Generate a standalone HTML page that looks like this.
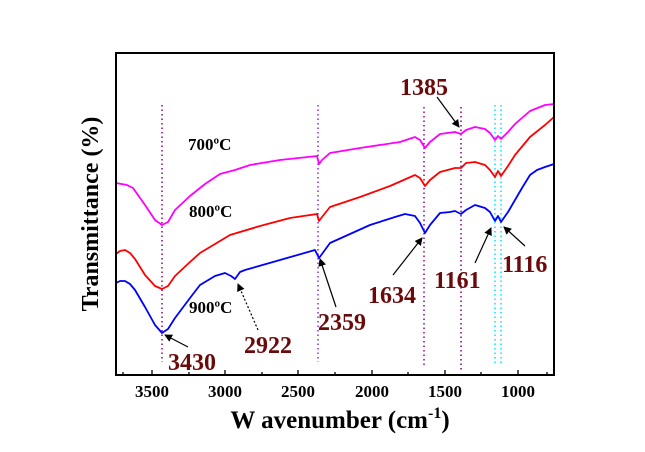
<!DOCTYPE html>
<html><head><meta charset="utf-8"><style>body{margin:0;background:#fff}svg{display:block}</style></head>
<body>
<svg width="645" height="452" xmlns="http://www.w3.org/2000/svg" font-family="Liberation Serif, serif" font-weight="bold">
<defs><marker id="ah" markerWidth="8" markerHeight="8" refX="7" refY="4" orient="auto" markerUnits="userSpaceOnUse"><path d="M0,0 L8,4 L0,8 Z" fill="#000"/></marker></defs>
<g stroke-dasharray="1.5,3" stroke-width="1.5">
<line x1="162" y1="105" x2="162" y2="362" stroke="#900090"/>
<line x1="318" y1="105" x2="318" y2="362" stroke="#8a2be2"/>
<line x1="424" y1="107" x2="424" y2="366" stroke="#900090"/>
<line x1="461" y1="107" x2="461" y2="370" stroke="#800080"/>
<line x1="495" y1="105" x2="495" y2="365" stroke="#00e5ff"/>
<line x1="501" y1="105" x2="501" y2="365" stroke="#00e5ff"/>
</g>
<g fill="none" stroke-width="1.8" stroke-linejoin="round">
<polyline stroke="#ff00ff" points="116,183 127,185 133,188 145,205 155,220 162,225 168,222 175,210 190,196 205,184 220,174 235,170 250,165 280,160 317,156 319,164 322,160 330,153 360,148 400,142 415,137 420,140 425,148 430,142 440,134 455,132 461,134 466,130 475,127 485,129 490,133 495,140 498,136 501,139 508,132 515,124 530,111 545,105 554,104"/>
<polyline stroke="#ff0000" points="116,254 120,251 125,250 130,253 135,259 145,275 155,286 162,289 168,286 175,276 190,262 200,253 230,235 260,226 290,218 317,214 319,221 322,217 330,207 360,197 390,186 415,175 420,178 425,186 430,180 440,172 455,168 461,168 466,163 475,162 485,165 490,170 495,177 498,171 501,176 508,166 515,155 530,137 545,125 554,117"/>
<polyline stroke="#0000ff" points="116,283 120,281 125,281 130,284 135,290 145,307 155,325 162,333 168,329 175,318 190,298 200,285 215,276 225,273 231,276 235,279 240,272 245,270 280,260 315,250 319,258 322,254 330,243 350,234 370,225 395,217 405,214 415,216 420,223 425,233 430,225 440,213 450,212 455,211 461,214 466,210 475,205 485,208 490,212 495,221 498,216 501,222 508,212 515,200 522,188 530,175 537,170 545,167 554,164"/>
</g>
<rect x="116" y="53" width="438" height="322" fill="none" stroke="#000" stroke-width="2"/>
<g stroke="#000" stroke-width="1.3">
<line x1="152" y1="375" x2="152" y2="370"/><line x1="225" y1="375" x2="225" y2="370"/><line x1="298" y1="375" x2="298" y2="370"/><line x1="372" y1="375" x2="372" y2="370"/><line x1="445" y1="375" x2="445" y2="370"/><line x1="518" y1="375" x2="518" y2="370"/>
<line x1="189" y1="375" x2="189" y2="372"/><line x1="262" y1="375" x2="262" y2="372"/><line x1="335" y1="375" x2="335" y2="372"/><line x1="408" y1="375" x2="408" y2="372"/><line x1="481" y1="375" x2="481" y2="372"/><line x1="123" y1="375" x2="123" y2="372"/><line x1="547" y1="375" x2="547" y2="372"/>
</g>
<g font-size="17" text-anchor="middle" fill="#000">
<text x="152" y="397">3500</text><text x="225" y="397">3000</text><text x="298" y="397">2500</text><text x="372" y="397">2000</text><text x="445" y="397">1500</text><text x="518" y="397">1000</text>
</g>
<text x="340" y="428" font-size="25" text-anchor="middle">W avenumber (cm<tspan font-size="16" dy="-10">-1</tspan><tspan dy="10">)</tspan></text>
<text transform="translate(98,214) rotate(-90)" font-size="24" text-anchor="middle">Transmittance (%)</text>
<g font-size="17" fill="#000">
<text x="188" y="150">700ºC</text><text x="189" y="217">800ºC</text><text x="189" y="313">900ºC</text>
</g>
<g font-size="24" fill="#6b0a0a">
<text x="400" y="95">1385</text><text x="168" y="370">3430</text><text x="244" y="353">2922</text><text x="318" y="330">2359</text><text x="368" y="303">1634</text><text x="434" y="288">1161</text><text x="502" y="272">1116</text>
</g>
<g stroke="#000" stroke-width="1.2" marker-end="url(#ah)">
<line x1="437" y1="97" x2="459" y2="127"/>
<line x1="188" y1="347" x2="165" y2="335"/>
<line x1="258" y1="330" x2="238" y2="284" stroke-dasharray="2,2"/>
<line x1="336" y1="307" x2="320" y2="259"/>
<line x1="393" y1="275" x2="422" y2="238"/>
<line x1="475" y1="263" x2="491" y2="228"/>
<line x1="525" y1="246" x2="504" y2="227"/>
</g>
</svg>
</body></html>
